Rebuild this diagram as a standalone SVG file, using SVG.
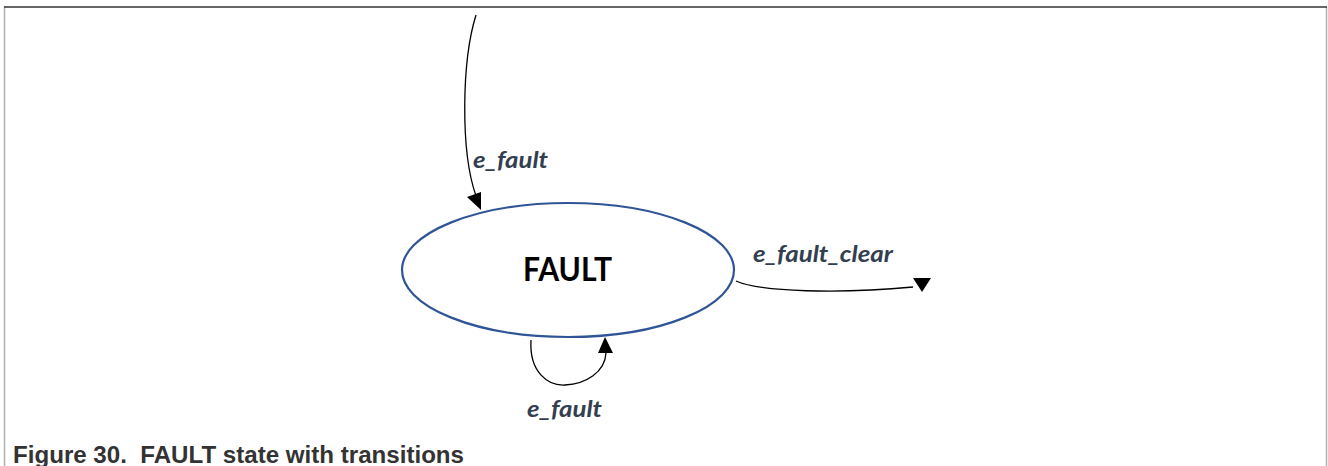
<svg xmlns="http://www.w3.org/2000/svg" width="1328" height="466" viewBox="0 0 1328 466">
  <style>
    .state { fill: #ffffff; stroke: #2f5597; stroke-width: 2.2; }
    .state-label { font-family: Lato, "Open Sans", "Liberation Sans", sans-serif; font-weight: bold; font-size: 32px; fill: #000000; }
    .edge { fill: none; stroke: #000000; stroke-width: 1.3; }
    .head { fill: #000000; stroke: none; }
    .edge-label { font-family: Lato, "Open Sans", "Liberation Sans", sans-serif; font-weight: bold; font-style: italic; font-size: 23px; fill: #333f50; }
    .caption { font-family: "Liberation Sans", Arial, sans-serif; font-weight: bold; font-size: 23.5px; fill: #333333; white-space: pre; }
  </style>

  <!-- frame -->
  <g id="frame">
    <line x1="4.5" y1="7" x2="4.5" y2="466" stroke="#b0b0b0" stroke-width="1.5"/>
    <line x1="1326.5" y1="7" x2="1326.5" y2="466" stroke="#b0b0b0" stroke-width="1.5"/>
    <line x1="4" y1="7" x2="1327" y2="7" stroke="#333333" stroke-width="1.5"/>
  </g>

  <!-- transitions -->
  <g id="connectors">
    <!-- incoming e_fault -->
    <path class="edge" d="M476,15 C462,60 460,150 476,196"/>
    <polygon class="head" points="467,197 481,192 481,210"/>
    <!-- outgoing e_fault_clear -->
    <path class="edge" d="M736,281 C760,292 840,294 913,287"/>
    <polygon class="head" points="913,278 931,278 922,292"/>
    <!-- self loop e_fault -->
    <path class="edge" d="M531,340 C529,372 548,386 565,385 C586,384 605,372 606,353"/>
    <polygon class="head" points="598,353 613,353 605,337"/>
  </g>

  <g id="edge-labels">
    <text class="edge-label" x="473" y="168" textLength="75" lengthAdjust="spacingAndGlyphs">e_fault</text>
    <text class="edge-label" x="753" y="262" textLength="140" lengthAdjust="spacingAndGlyphs">e_fault_clear</text>
    <text class="edge-label" x="527" y="417" textLength="75" lengthAdjust="spacingAndGlyphs">e_fault</text>
  </g>

  <!-- FAULT state -->
  <g id="state-fault">
    <ellipse class="state" cx="568" cy="270" rx="166" ry="67"/>
    <text class="state-label" x="523" y="281" textLength="89" lengthAdjust="spacingAndGlyphs">FAULT</text>
  </g>

  <g id="caption">
    <text class="caption" x="13" y="463" xml:space="preserve" textLength="451" lengthAdjust="spacingAndGlyphs">Figure 30.  FAULT state with transitions</text>
  </g>
</svg>
